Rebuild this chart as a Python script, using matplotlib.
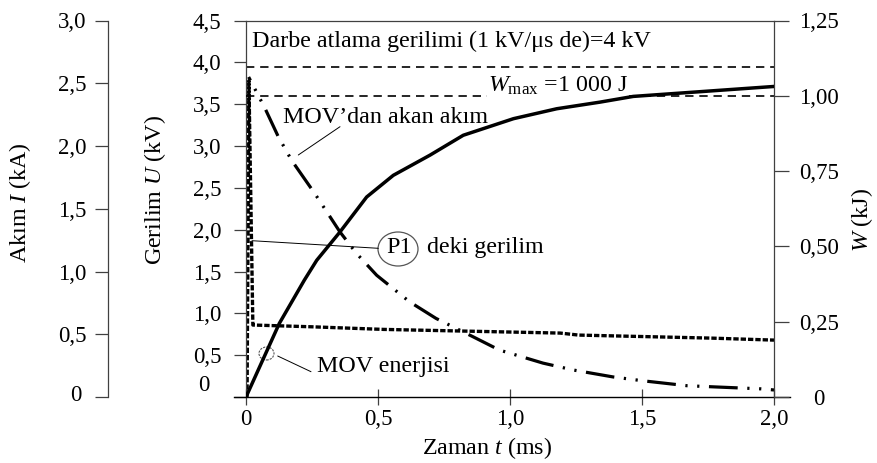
import matplotlib

matplotlib.use("Agg")
import matplotlib.pyplot as plt
from matplotlib.patches import Ellipse
from matplotlib.transforms import ScaledTranslation

plt.rcParams["font.family"] = ["Liberation Serif", "DejaVu Serif"]
plt.rcParams["mathtext.fontset"] = "custom"
plt.rcParams["mathtext.rm"] = "Liberation Serif"
plt.rcParams["mathtext.it"] = "Liberation Serif:italic"

# MOV energy (kJ, right axis)
time_energy = [0, 0.126, 0.221, 0.268, 0.356, 0.457, 0.558, 0.697, 0.823, 1.013, 1.177, 1.341, 1.467, 2.0]
energy_kj = [0, 0.244, 0.388, 0.454, 0.548, 0.664, 0.736, 0.803, 0.869, 0.924, 0.957, 0.979, 0.998, 1.031]

# voltage at P1 (kV)
time_p1 = [0.004, 0.011, 0.026, 0.04, 0.25, 0.52, 0.64, 1.19, 1.26, 1.76, 2.0]
voltage_p1 = [0, 3.78, 0.86, 0.859, 0.839, 0.808, 0.80, 0.764, 0.74, 0.704, 0.68]

# current through the MOV (kA)
time_current = [0.01, 0.072, 0.121, 0.173, 0.261, 0.356, 0.419, 0.495, 0.62, 0.72, 0.86, 0.96,
                1.125, 1.24, 1.39, 1.5, 1.67, 1.78, 1.95, 2.0]
current_ka = [2.55, 2.30, 2.08, 1.885, 1.62, 1.315, 1.143, 0.97, 0.758, 0.626, 0.48, 0.374,
              0.27, 0.215, 0.16, 0.13, 0.09, 0.08, 0.065, 0.056]

flashover_kv = 3.94
w_max_kj = 1.0

t_ticks = [0, 0.5, 1.0, 1.5, 2.0]
t_labels = ["0", "0,5", "1,0", "1,5", "2,0"]
u_ticks = [0, 0.5, 1.0, 1.5, 2.0, 2.5, 3.0, 3.5, 4.0, 4.5]
u_labels = ["0", "0,5", "1,0", "1,5", "2,0", "2,5", "3,0", "3,5", "4,0", "4,5"]
i_ticks = [0, 0.5, 1.0, 1.5, 2.0, 2.5, 3.0]
i_labels = ["0", "0,5", "1,0", "1,5", "2,0", "2,5", "3,0"]
w_ticks = [0, 0.25, 0.5, 0.75, 1.0, 1.25]
w_labels = ["0", "0,25", "0,50", "0,75", "1,00", "1,25"]

# layout in pixels
W, H = 878, 463
L, R, B, T = 246, 774, 397, 20.5
SPINE = "#404040"
FS = 17.3
TFS = 16.5


def fx(x):
    return (x - L) / (R - L)


def fy(y):
    return (B - y) / (B - T)


fig = plt.figure(figsize=(W / 100, H / 100), dpi=100)
ax = fig.add_axes([L / W, 1 - B / H, (R - L) / W, (B - T) / H])
ax_i = ax.twinx()
ax_w = ax.twinx()

# voltage axis (main)
ax.set_xlim(0, 2.0)
ax.set_ylim(0, 4.5)
ax.set_xticks(t_ticks, t_labels)
ax.set_yticks(u_ticks, u_labels)
ax.spines["right"].set_visible(False)
for side in ["left", "top"]:
    ax.spines[side].set_color(SPINE)
    ax.spines[side].set_linewidth(0.9)
ax.spines["bottom"].set_bounds(-0.0455, 2.061)
ax.spines["bottom"].set_linewidth(1.0)
ax.tick_params(axis="x", direction="inout", length=11, width=0.9, color=SPINE, labelsize=TFS, pad=3)
ax.tick_params(axis="y", direction="out", length=8.6, width=0.9, color=SPINE, labelsize=TFS, pad=19.5)
for label in ax.get_yticklabels():
    label.set_horizontalalignment("center")
zero_u = ax.yaxis.get_major_ticks()[0].label1
zero_u.set_transform(zero_u.get_transform() + ScaledTranslation(-0.03, 0.14, fig.dpi_scale_trans))

# current axis (far left)
ax_i.set_ylim(0, 3.0)
for side in ["right", "top", "bottom"]:
    ax_i.spines[side].set_visible(False)
ax_i.spines["left"].set_visible(True)
ax_i.spines["left"].set_position(("axes", (108 - L) / (R - L)))
ax_i.spines["left"].set_color(SPINE)
ax_i.spines["left"].set_linewidth(0.9)
ax_i.yaxis.set_ticks_position("left")
ax_i.set_yticks(i_ticks, i_labels)
ax_i.tick_params(axis="y", direction="out", length=9.4, width=0.9, color=SPINE, labelsize=TFS, pad=16.5)
for label in ax_i.get_yticklabels():
    label.set_horizontalalignment("center")
zero_i = ax_i.yaxis.get_major_ticks()[0].label1
zero_i.set_transform(zero_i.get_transform() + ScaledTranslation(0.04, 0.04, fig.dpi_scale_trans))

# energy axis (right)
ax_w.set_ylim(0, 1.25)
for side in ["left", "top", "bottom"]:
    ax_w.spines[side].set_visible(False)
ax_w.spines["right"].set_color(SPINE)
ax_w.spines["right"].set_linewidth(0.9)
ax_w.set_yticks(w_ticks, w_labels)
ax_w.tick_params(axis="y", direction="out", length=11, width=0.9, color=SPINE, labelsize=TFS, pad=21.4)
for label in ax_w.get_yticklabels():
    label.set_horizontalalignment("center")

# curves
ax.plot(time_p1, voltage_p1, color="black", lw=2.4, linestyle=(0, (1.6, 0.6)),
        dash_capstyle="butt")
ax.axhline(flashover_kv, color="black", lw=1.2, linestyle=(0, (5, 3.5)))
ax_i.plot(time_current, current_ka, color="black", lw=2.3,
          linestyle=(7.8, (9, 3, 0.7, 3, 0.7, 3)), dash_capstyle="butt")
ax_w.axhline(w_max_kj, color="black", lw=1.2, linestyle=(0, (5, 3.5)), zorder=2)
ax_w.plot(time_energy, energy_kj, color="black", lw=2.5, solid_joinstyle="round", zorder=4)

# annotations
tr = ax_w.transAxes
ax_w.text(fx(252), fy(46.7), "Darbe atlama gerilimi (1 kV/μs de)=4 kV", fontsize=FS,
          va="baseline", transform=tr)
ax_w.text(fx(488), fy(92), r"$W_{\rm max}$ =1 000 J", fontsize=FS, va="baseline", transform=tr,
          zorder=3, bbox=dict(facecolor="white", edgecolor="none", pad=1.0))
ax_w.text(fx(283), fy(122.7), "MOV’dan akan akım", fontsize=FS, va="baseline", transform=tr)
ax_w.text(fx(386.7), fy(253.3), "P1", fontsize=FS, va="baseline", transform=tr)
ax_w.text(fx(426.7), fy(253.3), "deki gerilim", fontsize=FS, va="baseline", transform=tr)
ax_w.text(fx(317.3), fy(371.7), "MOV enerjisi", fontsize=FS, va="baseline", transform=tr)

ax_w.add_patch(Ellipse((fx(398), fy(249)), 40 / (R - L), 34 / (B - T), transform=tr,
                       fill=False, edgecolor="#555555", lw=0.9))
ax_w.add_patch(Ellipse((fx(266.5), fy(353.5)), 15 / (R - L), 13 / (B - T), transform=tr,
                       fill=False, edgecolor="#555555", lw=0.8, linestyle=(0, (2, 1))))

leaders = [((298.3, 155), (340, 126.7)), ((252, 240.7), (378.3, 248.3)), ((277.7, 356), (311, 371.7))]
for (x0, y0), (x1, y1) in leaders:
    ax_w.annotate("", xy=(fx(x0), fy(y0)), xytext=(fx(x1), fy(y1)), xycoords=tr, textcoords=tr,
                  arrowprops=dict(arrowstyle="-", lw=0.7, color="black", shrinkA=0, shrinkB=0))

# axis titles
fig.text(20 / W, 1 - 203 / H, "Akım $I$ (kA)", rotation=90, ha="center", va="center", fontsize=FS)
fig.text(155 / W, 1 - 190 / H, "Gerilim $U$ (kV)", rotation=90, ha="center", va="center", fontsize=FS)
fig.text(862 / W, 1 - 220 / H, "$W$ (kJ)", rotation=90, ha="center", va="center", fontsize=FS)
fig.text(487.5 / W, 1 - 448 / H, "Zaman $t$ (ms)", ha="center", va="center", fontsize=FS)

fig.savefig("out.png", dpi=100)
